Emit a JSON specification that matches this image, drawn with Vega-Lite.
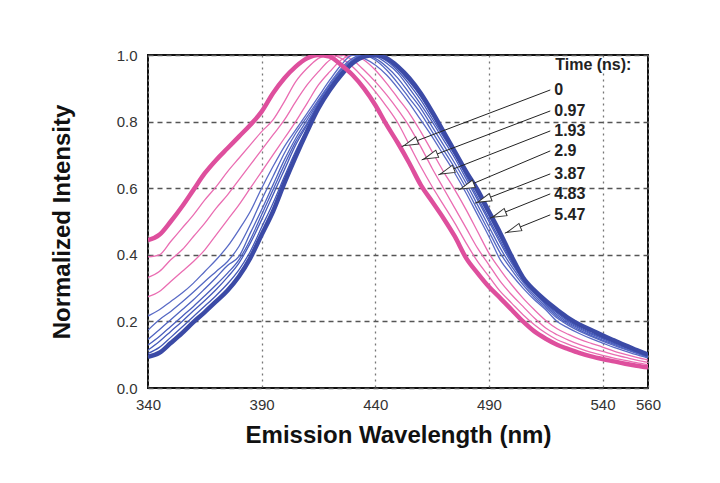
{
  "$schema": "https://vega.github.io/schema/vega-lite/v6.json",
  "width": 500,
  "height": 333,
  "autosize": {"type": "none"},
  "padding": {"left": 148, "top": 55, "right": 72, "bottom": 95},
  "background": "white",
  "config": {
    "view": {"stroke": "#111", "strokeWidth": 2},
    "font": "Liberation Sans"
  },
  "datasets": {
    "spectra": [
      {"w":340,"c0":0.444,"c1":0.394,"c2":0.332,"c3":0.274,"c4":0.216,"c5":0.174,"c6":0.146,"c7":0.129,"c8":0.114,"c9":0.104,"c10":0.094},
      {"w":345,"c0":0.46,"c1":0.40,"c2":0.35,"c3":0.29,"c4":0.235,"c5":0.205,"c6":0.175,"c7":0.155,"c8":0.14,"c9":0.122,"c10":0.106},
      {"w":350,"c0":0.50,"c1":0.44,"c2":0.385,"c3":0.32,"c4":0.26,"c5":0.23,"c6":0.205,"c7":0.185,"c8":0.17,"c9":0.152,"c10":0.135},
      {"w":355,"c0":0.545,"c1":0.48,"c2":0.415,"c3":0.35,"c4":0.285,"c5":0.258,"c6":0.235,"c7":0.215,"c8":0.2,"c9":0.183,"c10":0.165},
      {"w":360,"c0":0.595,"c1":0.52,"c2":0.455,"c3":0.38,"c4":0.315,"c5":0.288,"c6":0.265,"c7":0.245,"c8":0.232,"c9":0.215,"c10":0.198},
      {"w":365,"c0":0.645,"c1":0.565,"c2":0.495,"c3":0.415,"c4":0.35,"c5":0.32,"c6":0.298,"c7":0.277,"c8":0.263,"c9":0.246,"c10":0.228},
      {"w":370,"c0":0.685,"c1":0.605,"c2":0.54,"c3":0.46,"c4":0.385,"c5":0.35,"c6":0.332,"c7":0.31,"c8":0.296,"c9":0.278,"c10":0.26},
      {"w":375,"c0":0.72,"c1":0.65,"c2":0.58,"c3":0.505,"c4":0.425,"c5":0.38,"c6":0.368,"c7":0.345,"c8":0.333,"c9":0.313,"c10":0.293},
      {"w":380,"c0":0.755,"c1":0.69,"c2":0.625,"c3":0.55,"c4":0.475,"c5":0.425,"c6":0.395,"c7":0.385,"c8":0.375,"c9":0.355,"c10":0.335},
      {"w":385,"c0":0.79,"c1":0.73,"c2":0.67,"c3":0.60,"c4":0.53,"c5":0.49,"c6":0.465,"c7":0.445,"c8":0.435,"c9":0.41,"c10":0.39},
      {"w":390,"c0":0.83,"c1":0.77,"c2":0.715,"c3":0.65,"c4":0.60,"c5":0.565,"c6":0.535,"c7":0.52,"c8":0.505,"c9":0.483,"c10":0.46},
      {"w":395,"c0":0.885,"c1":0.805,"c2":0.76,"c3":0.70,"c4":0.665,"c5":0.635,"c6":0.61,"c7":0.595,"c8":0.58,"c9":0.555,"c10":0.53},
      {"w":400,"c0":0.93,"c1":0.86,"c2":0.805,"c3":0.75,"c4":0.725,"c5":0.705,"c6":0.685,"c7":0.67,"c8":0.655,"c9":0.635,"c10":0.615},
      {"w":405,"c0":0.965,"c1":0.92,"c2":0.86,"c3":0.80,"c4":0.775,"c5":0.765,"c6":0.75,"c7":0.74,"c8":0.73,"c9":0.712,"c10":0.695},
      {"w":410,"c0":0.99,"c1":0.96,"c2":0.91,"c3":0.855,"c4":0.825,"c5":0.815,"c6":0.805,"c7":0.795,"c8":0.79,"c9":0.78,"c10":0.77},
      {"w":415,"c0":1.0,"c1":0.99,"c2":0.95,"c3":0.91,"c4":0.875,"c5":0.865,"c6":0.86,"c7":0.855,"c8":0.85,"c9":0.845,"c10":0.84},
      {"w":420,"c0":0.995,"c1":1.0,"c2":0.985,"c3":0.95,"c4":0.925,"c5":0.915,"c6":0.91,"c7":0.905,"c8":0.90,"c9":0.897,"c10":0.895},
      {"w":425,"c0":0.97,"c1":0.99,"c2":1.0,"c3":0.985,"c4":0.97,"c5":0.96,"c6":0.955,"c7":0.95,"c8":0.945,"c9":0.942,"c10":0.94},
      {"w":430,"c0":0.94,"c1":0.965,"c2":0.985,"c3":1.0,"c4":1.0,"c5":0.99,"c6":0.985,"c7":0.982,"c8":0.978,"c9":0.976,"c10":0.975},
      {"w":435,"c0":0.90,"c1":0.93,"c2":0.955,"c3":0.985,"c4":0.99,"c5":1.0,"c6":1.0,"c7":0.998,"c8":0.995,"c9":0.994,"c10":0.995},
      {"w":440,"c0":0.85,"c1":0.89,"c2":0.92,"c3":0.955,"c4":0.97,"c5":0.985,"c6":0.99,"c7":0.995,"c8":0.998,"c9":1.0,"c10":1.0},
      {"w":445,"c0":0.79,"c1":0.845,"c2":0.88,"c3":0.915,"c4":0.94,"c5":0.955,"c6":0.965,"c7":0.975,"c8":0.982,"c9":0.986,"c10":0.99},
      {"w":450,"c0":0.735,"c1":0.795,"c2":0.835,"c3":0.87,"c4":0.90,"c5":0.915,"c6":0.93,"c7":0.945,"c8":0.952,"c9":0.958,"c10":0.965},
      {"w":455,"c0":0.675,"c1":0.73,"c2":0.785,"c3":0.825,"c4":0.855,"c5":0.87,"c6":0.885,"c7":0.90,"c8":0.912,"c9":0.92,"c10":0.93},
      {"w":460,"c0":0.61,"c1":0.665,"c2":0.725,"c3":0.77,"c4":0.805,"c5":0.825,"c6":0.84,"c7":0.852,"c8":0.865,"c9":0.875,"c10":0.885},
      {"w":465,"c0":0.56,"c1":0.605,"c2":0.66,"c3":0.71,"c4":0.755,"c5":0.77,"c6":0.785,"c7":0.80,"c8":0.81,"c9":0.82,"c10":0.83},
      {"w":470,"c0":0.51,"c1":0.55,"c2":0.60,"c3":0.65,"c4":0.70,"c5":0.715,"c6":0.73,"c7":0.745,"c8":0.755,"c9":0.762,"c10":0.77},
      {"w":475,"c0":0.455,"c1":0.495,"c2":0.54,"c3":0.595,"c4":0.645,"c5":0.66,"c6":0.675,"c7":0.69,"c8":0.70,"c9":0.705,"c10":0.71},
      {"w":480,"c0":0.39,"c1":0.435,"c2":0.48,"c3":0.535,"c4":0.585,"c5":0.60,"c6":0.615,"c7":0.628,"c8":0.637,"c9":0.644,"c10":0.65},
      {"w":485,"c0":0.345,"c1":0.38,"c2":0.42,"c3":0.47,"c4":0.52,"c5":0.535,"c6":0.55,"c7":0.565,"c8":0.573,"c9":0.582,"c10":0.595},
      {"w":490,"c0":0.304,"c1":0.335,"c2":0.37,"c3":0.405,"c4":0.455,"c5":0.47,"c6":0.485,"c7":0.50,"c8":0.508,"c9":0.518,"c10":0.53},
      {"w":495,"c0":0.27,"c1":0.29,"c2":0.32,"c3":0.355,"c4":0.385,"c5":0.405,"c6":0.42,"c7":0.435,"c8":0.443,"c9":0.452,"c10":0.465},
      {"w":500,"c0":0.235,"c1":0.255,"c2":0.28,"c3":0.31,"c4":0.34,"c5":0.355,"c6":0.365,"c7":0.375,"c8":0.38,"c9":0.388,"c10":0.395},
      {"w":505,"c0":0.20,"c1":0.22,"c2":0.245,"c3":0.27,"c4":0.30,"c5":0.31,"c6":0.318,"c7":0.325,"c8":0.328,"c9":0.33,"c10":0.332},
      {"w":510,"c0":0.17,"c1":0.19,"c2":0.21,"c3":0.235,"c4":0.265,"c5":0.272,"c6":0.278,"c7":0.284,"c8":0.288,"c9":0.29,"c10":0.293},
      {"w":515,"c0":0.148,"c1":0.165,"c2":0.18,"c3":0.203,"c4":0.235,"c5":0.24,"c6":0.245,"c7":0.25,"c8":0.254,"c9":0.258,"c10":0.262},
      {"w":520,"c0":0.13,"c1":0.145,"c2":0.16,"c3":0.178,"c4":0.20,"c5":0.21,"c6":0.215,"c7":0.22,"c8":0.225,"c9":0.23,"c10":0.235},
      {"w":525,"c0":0.117,"c1":0.131,"c2":0.144,"c3":0.161,"c4":0.18,"c5":0.188,"c6":0.192,"c7":0.196,"c8":0.20,"c9":0.205,"c10":0.21},
      {"w":530,"c0":0.105,"c1":0.118,"c2":0.13,"c3":0.146,"c4":0.163,"c5":0.17,"c6":0.174,"c7":0.178,"c8":0.181,"c9":0.185,"c10":0.19},
      {"w":535,"c0":0.095,"c1":0.107,"c2":0.119,"c3":0.134,"c4":0.148,"c5":0.155,"c6":0.158,"c7":0.162,"c8":0.165,"c9":0.17,"c10":0.174},
      {"w":540,"c0":0.087,"c1":0.098,"c2":0.11,"c3":0.123,"c4":0.135,"c5":0.141,"c6":0.144,"c7":0.148,"c8":0.151,"c9":0.155,"c10":0.158},
      {"w":545,"c0":0.08,"c1":0.09,"c2":0.10,"c3":0.111,"c4":0.122,"c5":0.128,"c6":0.131,"c7":0.134,"c8":0.137,"c9":0.14,"c10":0.143},
      {"w":550,"c0":0.073,"c1":0.083,"c2":0.092,"c3":0.101,"c4":0.111,"c5":0.116,"c6":0.118,"c7":0.121,"c8":0.123,"c9":0.126,"c10":0.128},
      {"w":555,"c0":0.067,"c1":0.076,"c2":0.084,"c3":0.092,"c4":0.10,"c5":0.104,"c6":0.106,"c7":0.108,"c8":0.11,"c9":0.112,"c10":0.114},
      {"w":560,"c0":0.062,"c1":0.07,"c2":0.077,"c3":0.084,"c4":0.09,"c5":0.092,"c6":0.094,"c7":0.096,"c8":0.097,"c9":0.098,"c10":0.10}
    ],
    "arrows": [
      {"label":"0","lx":517,"ly":0.895,"ax":451.6,"ay":0.725},
      {"label":"0.97","lx":517,"ly":0.832,"ax":460.4,"ay":0.685},
      {"label":"1.93","lx":517,"ly":0.772,"ax":467.7,"ay":0.64},
      {"label":"2.9","lx":517,"ly":0.712,"ax":476.5,"ay":0.595},
      {"label":"3.87","lx":517,"ly":0.643,"ax":483.9,"ay":0.555},
      {"label":"4.83","lx":517,"ly":0.583,"ax":490.5,"ay":0.51},
      {"label":"5.47","lx":517,"ly":0.52,"ax":497,"ay":0.465}
    ],
    "heading": [
      {"label":"Time (ns):","lx":517,"ly":0.97}
    ]
  },
  "encoding": {
    "x": {
      "field": "w", "type": "quantitative",
      "scale": {"domain": [340, 560], "nice": false, "zero": false},
      "axis": {
        "title": "Emission Wavelength (nm)",
        "values": [340, 390, 440, 490, 540, 560],
        "format": "d",
        "ticks": false, "domain": false,
        "labelFont": "Liberation Sans", "labelFontSize": 15, "labelColor": "#333",
        "labelPadding": 9, "labelFlush": false,
        "titleFont": "Liberation Sans", "titleFontSize": 24, "titleFontWeight": "bold", "titleColor": "#111",
        "titlePadding": 11,
        "grid": true, "gridColor": "#777", "gridDash": [2, 4], "gridWidth": 1.3
      }
    },
    "y": {
      "field": "value", "type": "quantitative",
      "scale": {"domain": [0, 1], "nice": false},
      "axis": {
        "title": "Normalized Intensity",
        "values": [0, 0.2, 0.4, 0.6, 0.8, 1.0],
        "format": ".1f",
        "ticks": false, "domain": false,
        "labelFont": "Liberation Sans", "labelFontSize": 15, "labelColor": "#333",
        "labelPadding": 11, "labelFlush": false,
        "titleFont": "Liberation Sans", "titleFontSize": 24, "titleFontWeight": "bold", "titleColor": "#111",
        "titlePadding": 42,
        "grid": true, "gridColor": "#555", "gridDash": [5, 4], "gridWidth": 1.4
      }
    }
  },
  "layer": [
    {
      "data": {"name": "spectra"},
      "transform": [
        {"fold": ["c1","c2","c3","c4","c5","c6","c7","c8","c9"], "as": ["series","value"]}
      ],
      "mark": {"type": "line", "interpolate": "monotone", "clip": true, "strokeWidth": 1.3},
      "encoding": {
        "color": {
          "field": "series", "type": "nominal", "legend": null,
          "scale": {
            "domain": ["c1","c2","c3","c4","c5","c6","c7","c8","c9"],
            "range": ["#ea6db2","#ea6db2","#ea6db2","#5a6bc6","#5468c3","#4f63c0","#4a5ebd","#465aba","#4357b7"]
          }
        }
      }
    },
    {
      "data": {"name": "spectra"},
      "transform": [
        {"fold": ["c10"], "as": ["series","value"]}
      ],
      "mark": {"type": "line", "interpolate": "monotone", "clip": true, "strokeWidth": 4.5, "color": "#3b4aa6"},
      "encoding": {"detail": {"field": "series", "type": "nominal"}}
    },
    {
      "data": {"name": "spectra"},
      "transform": [
        {"fold": ["c0"], "as": ["series","value"]}
      ],
      "mark": {"type": "line", "interpolate": "monotone", "clip": true, "strokeWidth": 4.5, "color": "#de4f9d"},
      "encoding": {"detail": {"field": "series", "type": "nominal"}}
    },
    {
      "data": {"name": "arrows"},
      "mark": {"type": "rule", "color": "#222", "strokeWidth": 1},
      "encoding": {
        "x": {"field": "ax", "type": "quantitative"},
        "y": {"field": "ay", "type": "quantitative"},
        "x2": {"field": "lx"},
        "y2": {"field": "ly"}
      }
    },
    {
      "data": {"name": "arrows"},
      "mark": {
        "type": "point", "shape": "M -1 0 L 1 -0.55 L 1 0.55 Z", "size": 200,
        "filled": true, "fill": "white", "stroke": "#333", "strokeWidth": 1,
        "angle": 338.5, "xOffset": 9, "yOffset": -3.5, "opacity": 1
      },
      "encoding": {
        "x": {"field": "ax", "type": "quantitative"},
        "y": {"field": "ay", "type": "quantitative"}
      }
    },
    {
      "data": {"name": "arrows"},
      "mark": {"type": "text", "align": "left", "baseline": "middle", "dx": 4, "font": "Liberation Sans", "fontSize": 16, "fontWeight": "bold", "color": "#222"},
      "encoding": {
        "x": {"field": "lx", "type": "quantitative"},
        "y": {"field": "ly", "type": "quantitative"},
        "text": {"field": "label"}
      }
    },
    {
      "data": {"name": "heading"},
      "mark": {"type": "text", "align": "left", "baseline": "middle", "dx": 5, "font": "Liberation Sans", "fontSize": 16, "fontWeight": "bold", "color": "#222"},
      "encoding": {
        "x": {"field": "lx", "type": "quantitative"},
        "y": {"field": "ly", "type": "quantitative"},
        "text": {"field": "label"}
      }
    }
  ]
}
